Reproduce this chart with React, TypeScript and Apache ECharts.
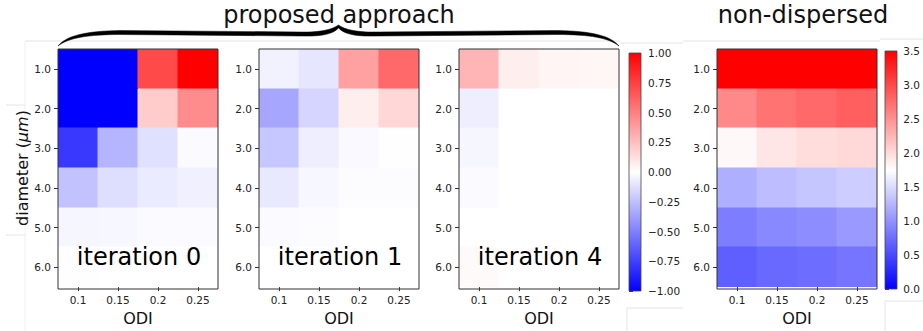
import React, { useEffect, useRef } from "react";
import * as echarts from "echarts";

const odiCategories = ["0.1", "0.15", "0.2", "0.25"];
const diameterCategories = ["1.0", "2.0", "3.0", "4.0", "5.0", "6.0"];

// rows: diameter 1.0 .. 6.0 ; columns: ODI 0.1 .. 0.25
const iteration0Values = [
  [-1.0, -1.0, 0.71, 1.0],
  [-1.0, -1.0, 0.2, 0.45],
  [-0.78, -0.29, -0.12, -0.015],
  [-0.24, -0.13, -0.08, -0.06],
  [-0.035, -0.03, -0.02, -0.015],
  [-0.005, 0.0, 0.0, 0.0],
];
const iteration1Values = [
  [-0.05, -0.1, 0.37, 0.59],
  [-0.35, -0.165, 0.065, 0.155],
  [-0.22, -0.065, -0.025, -0.005],
  [-0.09, -0.03, -0.01, -0.01],
  [-0.02, -0.01, 0.0, 0.0],
  [0.0, 0.0, 0.0, 0.0],
];
const iteration4Values = [
  [0.29, 0.065, 0.04, 0.035],
  [-0.065, 0.0, 0.0, 0.0],
  [-0.035, 0.0, 0.0, 0.0],
  [-0.02, 0.0, 0.0, 0.0],
  [0.0, 0.0, 0.0, 0.0],
  [0.02, 0.0, 0.0, 0.0],
];
const nonDispersedValues = [
  [3.5, 3.5, 3.5, 3.5],
  [2.57, 2.71, 2.78, 2.85],
  [1.8, 1.92, 1.98, 2.02],
  [1.2, 1.3, 1.36, 1.41],
  [0.86, 0.94, 0.97, 1.05],
  [0.65, 0.72, 0.75, 0.8],
];

const panelLabels = ["iteration 0", "iteration 1", "iteration 4"];
const groupTitle = "proposed approach";
const referenceTitle = "non-dispersed";
const xAxisName = "ODI";

const FONT = "DejaVu Sans";
const BWR = ["#0000ff", "#ffffff", "#ff0000"];

const toData = (m: number[][]) => {
  const out: number[][] = [];
  m.forEach((row, yi) => row.forEach((v, xi) => out.push([xi, yi, v])));
  return out;
};

const minus = (s: string) => s.replace("-", "\u2212");

export default function App() {
  const ref = useRef<HTMLDivElement>(null);
  useEffect(() => {
    if (!ref.current) return;
    const chart = echarts.init(ref.current, null, { renderer: "svg" });

    const braceD =
      "M58,46 C66,36 85,31 120,30.5 L300,32 C318,32.5 332,30 338.5,25 " +
      "C345,30 359,32.5 377,32 L557,30.5 C592,31 611,36 619,46 " +
      "C609,38 590,34.5 557,34.5 L377,36 C358,36.5 345,35 338.5,28 " +
      "C332,35 319,36.5 300,36 L120,34.5 C88,34.5 68,38 58,46 Z";
    try {
      echarts.graphic.registerShape("brace", echarts.graphic.extendPath(braceD, {}));
    } catch (e) {}

    const panels = [
      { left: 58, width: 160 },
      { left: 259, width: 160 },
      { left: 459, width: 160 },
      { left: 717, width: 160 },
    ];
    const top = 49;
    const height = 240;
    const cb1 = { left: 629, top: 53, width: 12, height: 238 };
    const cb2 = { left: 885, top: 51, width: 12, height: 238 };

    const tickLabel = { fontFamily: FONT, fontSize: 10.5, color: "#222" };

    const grids: any[] = panels.map((p) => ({
      left: p.left,
      top,
      width: p.width,
      height,
      containLabel: false,
    }));
    grids.push({ ...cb1 }, { ...cb2 });

    const xAxes: any[] = panels.map((_, i) => ({
      type: "category",
      gridIndex: i,
      data: odiCategories,
      name: xAxisName,
      nameLocation: "middle",
      nameGap: 20,
      nameTextStyle: { fontFamily: FONT, fontSize: 16, color: "#111" },
      axisLine: { show: false },
      axisTick: { show: true, alignWithLabel: true, length: 4, lineStyle: { color: "#333" } },
      axisLabel: { ...tickLabel, margin: 7 },
      splitLine: { show: false },
      splitArea: { show: false },
    }));
    xAxes.push(
      { type: "value", gridIndex: 4, min: 0, max: 1, show: false },
      { type: "value", gridIndex: 5, min: 0, max: 1, show: false }
    );

    const yAxes: any[] = panels.map((_, i) => ({
      type: "category",
      gridIndex: i,
      data: diameterCategories,
      inverse: true,
      name: i === 0 ? "diameter ({i|μm})" : "",
      nameLocation: "middle",
      nameGap: 19,
      nameTextStyle: {
        fontFamily: FONT,
        fontSize: 16,
        color: "#111",
        rich: { i: { fontFamily: FONT, fontSize: 16, fontStyle: "italic", color: "#111" } },
      },
      axisLine: { show: false },
      axisTick: { show: true, alignWithLabel: true, length: 4, lineStyle: { color: "#333" } },
      axisLabel: { ...tickLabel, margin: 7 },
      splitLine: { show: false },
      splitArea: { show: false },
    }));
    yAxes.push(
      {
        type: "value",
        gridIndex: 4,
        position: "right",
        min: -1,
        max: 1,
        interval: 0.25,
        axisLine: { show: false },
        axisTick: { show: true, length: 4, lineStyle: { color: "#333" } },
        axisLabel: { ...tickLabel, margin: 7, formatter: (v: number) => minus(v.toFixed(2)) },
        splitLine: { show: false },
      },
      {
        type: "value",
        gridIndex: 5,
        position: "right",
        min: 0,
        max: 3.5,
        interval: 0.5,
        axisLine: { show: false },
        axisTick: { show: true, length: 4, lineStyle: { color: "#333" } },
        axisLabel: { ...tickLabel, margin: 7, formatter: (v: number) => v.toFixed(1) },
        splitLine: { show: false },
      }
    );

    const renderCell = (params: any, api: any) => {
      const c = api.coord([api.value(0), api.value(1)]);
      const s = api.size([1, 1]);
      const color = api.visual("color");
      return {
        type: "rect",
        shape: {
          x: Math.round(c[0] - s[0] / 2),
          y: Math.round(c[1] - s[1] / 2),
          width: Math.round(s[0]),
          height: Math.round(s[1]),
        },
        style: { fill: color, stroke: color, lineWidth: 1 },
      };
    };

    const matrices = [iteration0Values, iteration1Values, iteration4Values, nonDispersedValues];
    const series: any[] = matrices.map((m, i) => ({
      type: "custom",
      xAxisIndex: i,
      yAxisIndex: i,
      data: toData(m),
      encode: { x: 0, y: 1 },
      renderItem: renderCell,
      silent: true,
      clip: true,
    }));
    series.push(
      { type: "line", xAxisIndex: 4, yAxisIndex: 4, data: [], silent: true },
      { type: "line", xAxisIndex: 5, yAxisIndex: 5, data: [], silent: true }
    );

    const gradient = () =>
      new echarts.graphic.LinearGradient(0, 0, 0, 1, [
        { offset: 0, color: "#ff0000" },
        { offset: 0.5, color: "#ffffff" },
        { offset: 1, color: "#0000ff" },
      ]);

    const faint = { stroke: "#e4e4e4", lineWidth: 1 };
    const graphics: any[] = [
      { type: "line", shape: { x1: 25, y1: 41, x2: 620, y2: 41 }, style: faint, silent: true },
      { type: "line", shape: { x1: 620, y1: 43, x2: 683, y2: 43 }, style: faint, silent: true },
      { type: "line", shape: { x1: 683, y1: 41, x2: 880, y2: 41 }, style: faint, silent: true },
      { type: "line", shape: { x1: 880, y1: 39, x2: 923, y2: 39 }, style: faint, silent: true },
      { type: "line", shape: { x1: 25, y1: 41, x2: 25, y2: 331 }, style: { stroke: "#f0f0f0", lineWidth: 1 }, silent: true },
      { type: "line", shape: { x1: 6, y1: 105, x2: 25, y2: 105 }, style: faint, silent: true },
      { type: "line", shape: { x1: 6, y1: 235, x2: 25, y2: 235 }, style: faint, silent: true },
      { type: "polyline", shape: { points: [[627, 331], [627, 308], [683, 308]] }, style: { ...faint, fill: null }, silent: true },
      { type: "polyline", shape: { points: [[885, 331], [885, 301], [923, 301]] }, style: { ...faint, fill: null }, silent: true },
      { type: "brace", x: 0, y: 0, style: { fill: "#000", stroke: "#000", lineWidth: 0.5 }, silent: true, z: 10 },
      {
        type: "text",
        x: 339,
        y: 15,
        style: { text: groupTitle, font: `24px '${FONT}'`, fill: "#111", align: "center", verticalAlign: "middle" },
        z: 10,
      },
      {
        type: "text",
        x: 803,
        y: 15,
        style: { text: referenceTitle, font: `24px '${FONT}'`, fill: "#111", align: "center", verticalAlign: "middle" },
        z: 10,
      },
      {
        type: "rect",
        shape: { x: cb1.left, y: cb1.top, width: cb1.width, height: cb1.height },
        style: { fill: gradient(), stroke: "#444", lineWidth: 0.8 },
        z: 10,
      },
      {
        type: "rect",
        shape: { x: cb2.left, y: cb2.top, width: cb2.width, height: cb2.height },
        style: { fill: gradient(), stroke: "#444", lineWidth: 0.8 },
        z: 10,
      },
    ];
    panels.forEach((p) => {
      graphics.push({
        type: "rect",
        shape: { x: p.left, y: top, width: p.width, height },
        style: { fill: null, stroke: "#333", lineWidth: 1 },
        z: 10,
        silent: true,
      });
    });
    panelLabels.forEach((t, i) => {
      const p = panels[i];
      graphics.push({
        type: "text",
        x: p.left + p.width / 2 + 1,
        y: 257,
        style: { text: t, font: `24px '${FONT}'`, fill: "#000", align: "center", verticalAlign: "middle" },
        z: 11,
      });
    });

    chart.setOption({
      animation: false,
      backgroundColor: "#fff",
      grid: grids,
      xAxis: xAxes,
      yAxis: yAxes,
      visualMap: [
        { type: "continuous", show: false, seriesIndex: [0, 1, 2], dimension: 2, min: -1, max: 1, inRange: { color: BWR } },
        { type: "continuous", show: false, seriesIndex: [3], dimension: 2, min: 0, max: 3.5, inRange: { color: BWR } },
      ],
      series,
      graphic: graphics,
    });

    return () => chart.dispose();
  }, []);

  return (
    <div
      ref={ref}
      style={{ position: "absolute", left: 0, top: 0, width: 923, height: 331, background: "#fff" }}
    />
  );
}
